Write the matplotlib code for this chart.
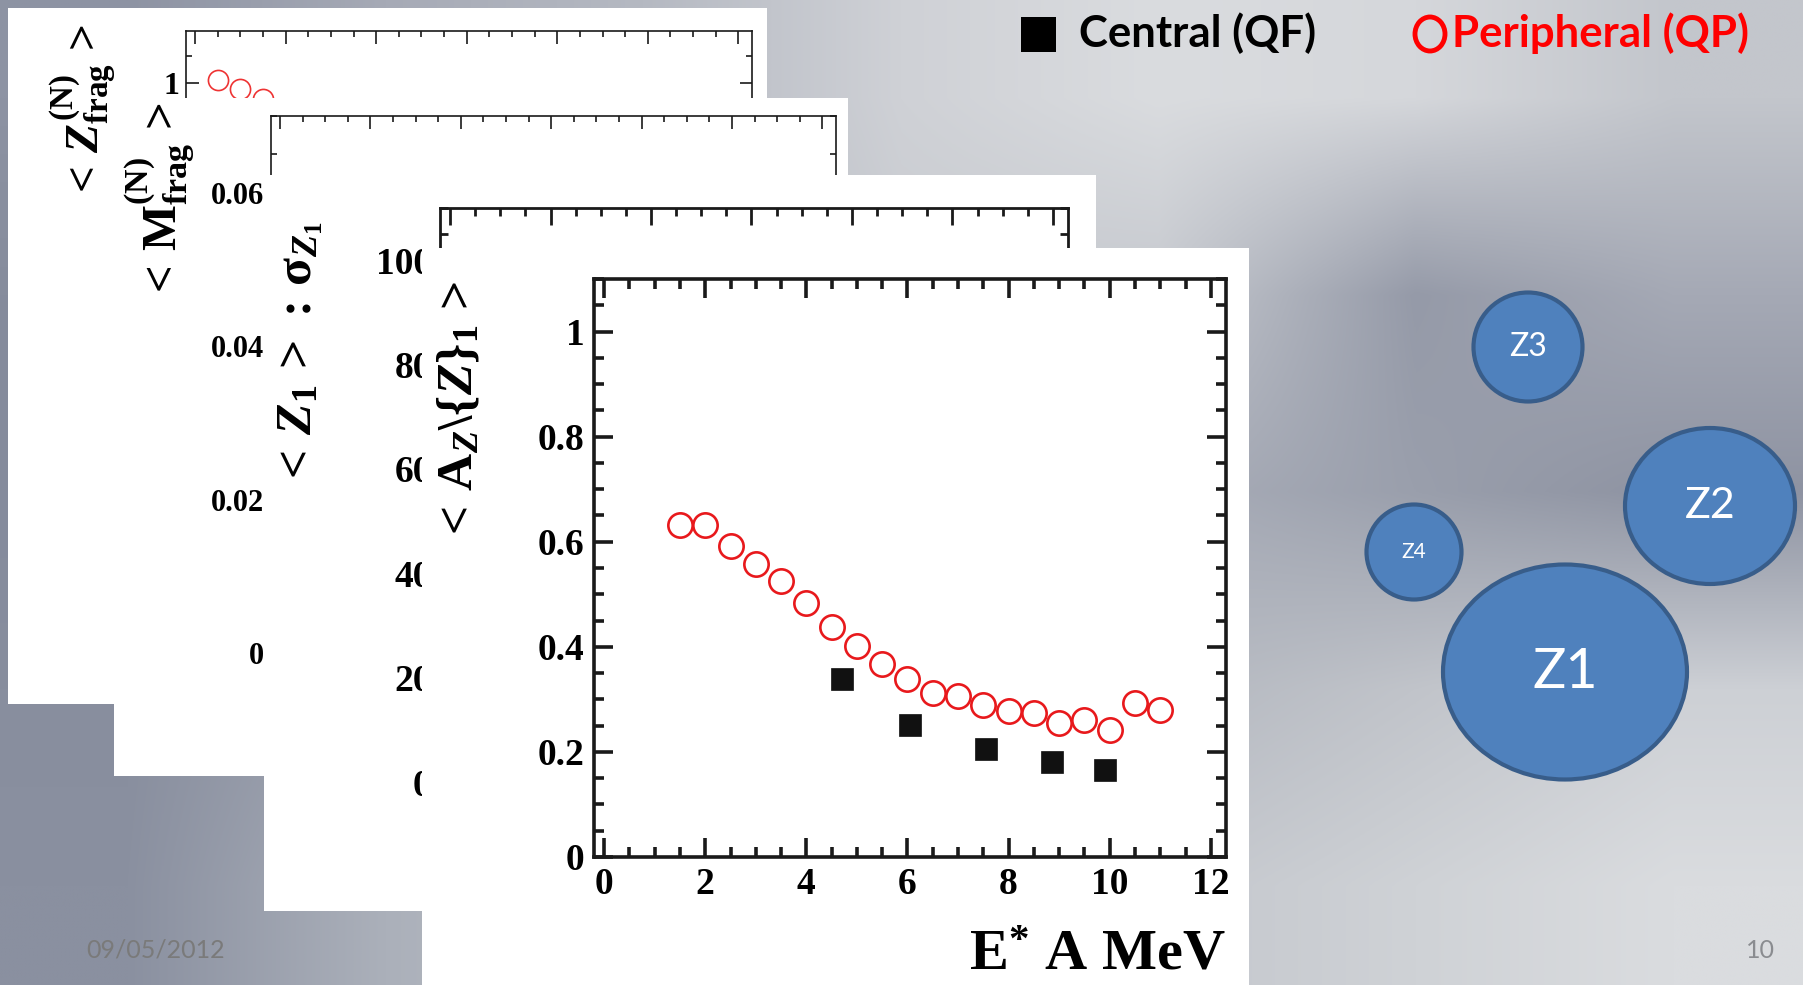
import numpy as np
import matplotlib

matplotlib.use("Agg")
import matplotlib.pyplot as plt
from matplotlib.colors import to_rgb
from matplotlib.patches import Ellipse, Rectangle
from matplotlib.ticker import FixedLocator, FuncFormatter, MultipleLocator

W, H = 1803, 985

# front panel: <A_Z\{Z}_1> vs E*/A
peripheral_x = [1.5, 2.0, 2.5, 3.0, 3.5, 4.0, 4.5, 5.0, 5.5, 6.0,
                6.5, 7.0, 7.5, 8.0, 8.5, 9.0, 9.5, 10.0, 10.5, 11.0]
peripheral_y = [0.632, 0.631, 0.591, 0.557, 0.525, 0.483, 0.438, 0.402, 0.367, 0.339,
                0.313, 0.306, 0.289, 0.277, 0.275, 0.255, 0.260, 0.241, 0.294, 0.280]
central_x = [4.7, 6.05, 7.55, 8.85, 9.9]
central_y = [0.338, 0.251, 0.205, 0.180, 0.166]

# back-most panel, only a few points show
back_x = [0.5, 1.0, 1.5]
back_y = [1.01, 0.98, 0.94]

bubble_labels = ["Z1", "Z2", "Z3", "Z4"]
bubble_sizes = [40, 31, 23, 15]

plt.rcParams.update({
    "font.family": "Liberation Serif",
    "font.weight": "bold",
    "mathtext.fontset": "custom",
    "mathtext.rm": "Liberation Serif:bold",
    "mathtext.bf": "Liberation Serif:bold",
    "mathtext.it": "Liberation Serif:bold:italic",
    "mathtext.default": "rm",
})

fig = plt.figure(figsize=(W / 100, H / 100), dpi=100)
PX = fig.dpi_scale_trans


def box(x0, y0, x1, y1):
    return [x0 / W, 1 - y1 / H, (x1 - x0) / W, (y1 - y0) / H]


def px(x, y):
    return x / 100, (H - y) / 100


# slide background
bg_rows = [
    ["#8d93a3", "#a6aab6", "#b5b9c2", "#cfd1d6", "#dadcdf", "#d5d7db", "#c3c6cc"],
    ["#868c9c", "#9ba0ad", "#b0b4bd", "#c8cbd0", "#c6c9cf", "#959aa8", "#a5a9b5"],
    ["#858b9c", "#959aa8", "#a8acb6", "#b8bbc3", "#a9adb8", "#9a9fac", "#8e93a2"],
    ["#888e9e", "#9ca1ae", "#adb1bb", "#b8bbc3", "#b4b8c0", "#c1c4ca", "#cdd0d5"],
    ["#8a90a0", "#abb0ba", "#bcc0c7", "#c4c7cc", "#c4c7cd", "#cfd2d6", "#dadcdf"],
]
grid = np.array([[to_rgb(c) for c in row] for row in bg_rows])
bg = fig.add_axes([0, 0, 1, 1], zorder=-10)
bg.imshow(grid, extent=(0, 1, 0, 1), aspect="auto", interpolation="bilinear")
bg.axis("off")

fmt = FuncFormatter(lambda v, _: f"{v:g}")


def panel(paper, frame, ylim, ymaj, ymin, z, lw, maj_len, fs, pad):
    fig.add_artist(Rectangle((paper[0] / W, 1 - paper[3] / H),
                             (paper[2] - paper[0]) / W, (paper[3] - paper[1]) / H,
                             transform=fig.transFigure, facecolor="white",
                             edgecolor="none", zorder=z))
    ax = fig.add_axes(box(*frame), zorder=z + 1)
    ax.set_xlim(-0.2, 12.3)
    ax.set_ylim(*ylim)
    ax.xaxis.set_major_locator(MultipleLocator(2))
    ax.xaxis.set_minor_locator(MultipleLocator(0.5))
    ax.yaxis.set_major_locator(MultipleLocator(ymaj))
    ax.yaxis.set_minor_locator(MultipleLocator(ymin))
    ax.xaxis.set_major_formatter(fmt)
    ax.yaxis.set_major_formatter(fmt)
    ax.tick_params(which="both", direction="in", top=True, right=True,
                   width=lw, labelsize=fs, pad=pad, color="#1a1a1a")
    ax.tick_params(which="major", length=maj_len)
    ax.tick_params(which="minor", length=maj_len / 2)
    for s in ax.spines.values():
        s.set_linewidth(lw)
        s.set_color("#1a1a1a")
    return ax


# panel 1 (back)
ax1 = panel((8, 8, 767, 704), (186, 31, 752, 357), (0, 1.19), 0.5, 0.1, 10, 1.2, 9, 23, 5)
ax1.yaxis.set_major_locator(FixedLocator([1.0]))
ax1.tick_params(labelbottom=False)
ax1.plot(back_x, back_y, "o", ms=14.5, mfc="none", mec="#ee3333", mew=1.2)
ax1.text(*px(84, 112), r"$<\,\mathit{Z}_{\mathrm{frag}}^{(\mathrm{N})}\,>$", transform=PX,
         rotation=90, ha="center", va="center", fontsize=34, clip_on=False)

# panel 2
ax2 = panel((114, 98, 848, 776), (271, 116, 836, 653), (0, 0.07), 0.02, 0.005, 20, 1.2, 9, 22, 5)
ax2.tick_params(labelbottom=False)
ax2.text(*px(160, 201), r"$<\,\mathrm{M}_{\mathrm{frag}}^{(\mathrm{N})}\,>$", transform=PX,
         rotation=90, ha="center", va="center", fontsize=35, clip_on=False)

# panel 3
ax3 = panel((264, 175, 1096, 911), (440, 208, 1068, 782), (0, 110), 20, 5, 30, 2.0, 12, 27, 6)
ax3.tick_params(labelbottom=False)
ax3.text(*px(301, 354), r"$<\,\mathit{Z}_1\,>\,:\,\sigma_{\mathit{Z}_1}$", transform=PX,
         rotation=90, ha="center", va="center", fontsize=37, clip_on=False)

# panel 4 (front)
ax4 = panel((422, 248, 1249, 985), (594, 279, 1226, 857), (0, 1.1), 0.2, 0.05, 40, 2.6, 14, 27, 7)
ax4.plot(peripheral_x, peripheral_y, "o", ms=17.5, mfc="none", mec="#e8191c", mew=1.9)
ax4.plot(central_x, central_y, "s", ms=16, mfc="#111111", mec="#111111", mew=0.5)
ax4.text(*px(460, 411), r"$<\,\mathrm{A}_{\mathit{Z}}\backslash\{\mathit{Z}\}_1\,>$", transform=PX,
         rotation=90, ha="center", va="center", fontsize=37, clip_on=False)
ax4.text(*px(1226, 970), r"E$^{*}$ A MeV", transform=PX,
         ha="right", va="baseline", fontsize=42, clip_on=False)

# legend-like header
fig.add_artist(Rectangle(px(1021, 52), 0.35, 0.35, transform=PX,
                         facecolor="black", edgecolor="none", zorder=50))
fig.text(*px(1079, 33), "Central (QF)", transform=PX, ha="left", va="center",
         fontsize=31.5, fontfamily="Lato", fontweight="bold", color="black")
fig.add_artist(Ellipse(px(1430, 34), 0.30, 0.34, transform=PX, facecolor="none",
                       edgecolor="#ff0000", linewidth=3.5, zorder=50))
fig.text(*px(1452, 33), "Peripheral (QP)", transform=PX, ha="left", va="center",
         fontsize=31.5, fontfamily="Lato", fontweight="bold", color="#ff0000")

# fragment bubbles
bubble_geom = [(1565, 672, 244, 215), (1710, 506, 170, 156), (1528, 347, 109, 109), (1414, 552, 95, 95)]
for label, size, (cx, cy, bw, bh) in zip(bubble_labels, bubble_sizes, bubble_geom):
    fig.add_artist(Ellipse(px(cx, cy), bw / 100, bh / 100, transform=PX,
                           facecolor="#4f81bd", edgecolor="#385d8a", linewidth=3, zorder=50))
    fig.text(*px(cx, cy), label, transform=PX, ha="center", va="center",
             fontsize=size, fontfamily="Lato", fontweight="normal", color="white", zorder=51)

# footer
fig.text(*px(86, 950), "09/05/2012", transform=PX, ha="left", va="center",
         fontsize=18, fontfamily="Lato", fontweight="normal", color="#7a7a7a")
fig.text(*px(1775, 950), "10", transform=PX, ha="right", va="center",
         fontsize=18, fontfamily="Lato", fontweight="normal", color="#8a8c90")

fig.savefig("out.png", dpi=100)
